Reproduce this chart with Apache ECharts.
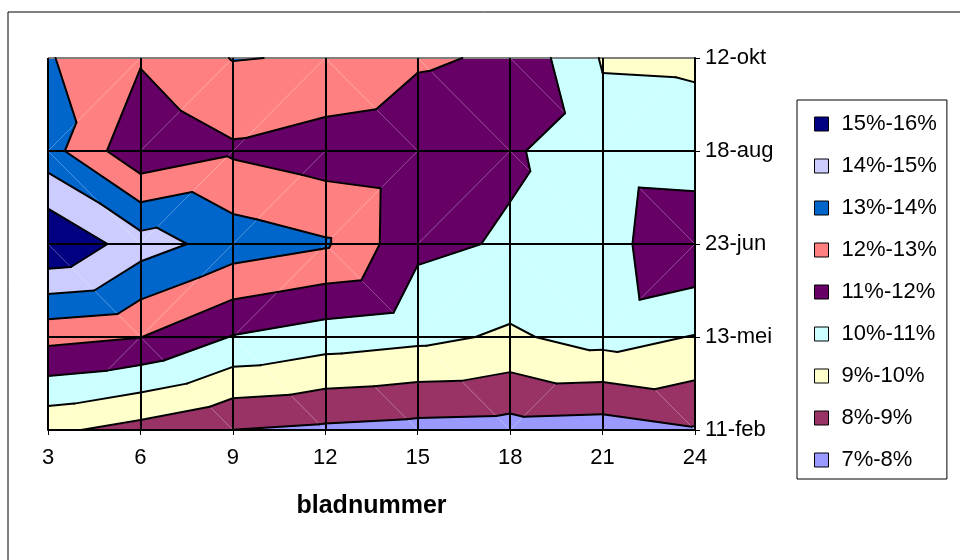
<!DOCTYPE html>
<html><head><meta charset="utf-8">
<script src="https://cdn.jsdelivr.net/npm/echarts@6/dist/echarts.min.js"></script>
<style>html,body{margin:0;padding:0;background:#fff}#c{width:960px;height:560px}</style>
</head><body><div id="c"></div>
<script>
// bladnummer (x) and dates (y)
const xValues = [3, 6, 9, 12, 15, 18, 21, 24];
const yLabels = ['11-feb', '13-mei', '23-jun', '18-aug', '12-okt'];
// percentage values per date row, one per bladnummer
const row_11feb = [9.2, 8.64, 7.99, 7.81, 7.67, 7.6, 7.51, 7.91];
const row_13mei = [12.3, 12.02, 10.95, 10.5, 10.25, 9.85, 10.4, 9.95];
const row_23jun = [15.98, 14.46, 13.55, 13.12, 11.22, 10.9, 10.57, 11.9];
const row_18aug = [13.4, 11.2, 11.85, 11.47, 11.25, 11.12, 10.42, 10.31];
const row_12okt = [13.08, 12.1, 13.04, 12.92, 12.14, 11.85, 9.92, 9.89];
// bands
const bandNames = ['7%-8%', '8%-9%', '9%-10%', '10%-11%', '11%-12%', '12%-13%', '13%-14%', '14%-15%', '15%-16%'];
const bandLows = [7, 8, 9, 10, 11, 12, 13, 14, 15];
const bandHighs = [8, 9, 10, 11, 12, 13, 14, 15, 16];
const bandColors = ['#9999FF', '#993366', '#FFFFCC', '#CCFFFF', '#660066', '#FF8080', '#0066CC', '#CCCCFF', '#000080'];

const rows = [row_11feb, row_13mei, row_23jun, row_18aug, row_12okt];

// triangulate each grid cell (diagonal through the higher pair of corners)
function buildTriangles() {
  const tris = [];
  for (let j = 0; j < rows.length - 1; j++) {
    for (let i = 0; i < xValues.length - 1; i++) {
      const BL = [xValues[i], j, rows[j][i]];
      const BR = [xValues[i + 1], j, rows[j][i + 1]];
      const TL = [xValues[i], j + 1, rows[j + 1][i]];
      const TR = [xValues[i + 1], j + 1, rows[j + 1][i + 1]];
      if (BL[2] + TR[2] >= TL[2] + BR[2]) {
        tris.push([...BL, ...BR, ...TR]);
        tris.push([...BL, ...TR, ...TL]);
      } else {
        tris.push([...TL, ...BL, ...BR]);
        tris.push([...TL, ...BR, ...TR]);
      }
    }
  }
  return tris;
}
const triangles = buildTriangles();

function clip(poly, level, keepAbove) {
  const out = [];
  for (let k = 0; k < poly.length; k++) {
    const a = poly[k], b = poly[(k + 1) % poly.length];
    const ina = keepAbove ? a[2] >= level : a[2] <= level;
    const inb = keepAbove ? b[2] >= level : b[2] <= level;
    if (ina) out.push(a);
    if (ina !== inb) {
      const t = (level - a[2]) / (b[2] - a[2]);
      out.push([a[0] + t * (b[0] - a[0]), a[1] + t * (b[1] - a[1]), level]);
    }
  }
  return out;
}
function triFromApi(api) {
  return [0, 1, 2].map(k => [api.value(3 * k), api.value(3 * k + 1), api.value(3 * k + 2)]);
}

const FONT = 'Liberation Sans, Arial, sans-serif';
const series = [];
bandNames.forEach((name, b) => {
  series.push({
    type: 'custom', name: name, data: triangles, z: 2, silent: true,
    itemStyle: { color: bandColors[b] },
    encode: { x: 0, y: 1 },
    renderItem: (params, api) => {
      const p = triFromApi(api);
      const poly = clip(clip(p, bandLows[b], true), bandHighs[b], false);
      if (poly.length < 3) return null;
      return {
        type: 'polygon',
        shape: { points: poly.map(q => api.coord([q[0], q[1]])) },
        style: { fill: bandColors[b], stroke: bandColors[b], lineWidth: 1 }
      };
    }
  });
});
// faint triangulation diagonals
series.push({
  type: 'custom', data: triangles, z: 3, silent: true, encode: { x: 0, y: 1 },
  renderItem: (params, api) => {
    if (params.dataIndex % 2 !== 0) return null;
    const p = triFromApi(api);
    const a = api.coord([p[0][0], p[0][1]]), c = api.coord([p[2][0], p[2][1]]);
    return { type: 'line', shape: { x1: a[0], y1: a[1], x2: c[0], y2: c[1] },
      style: { stroke: 'rgba(255,255,255,0.3)', lineWidth: 1 } };
  }
});
// contour lines
series.push({
  type: 'custom', data: triangles, z: 6, silent: true, encode: { x: 0, y: 1 },
  renderItem: (params, api) => {
    const p = triFromApi(api);
    const children = [];
    for (let b = 1; b < bandLows.length; b++) {
      const t = bandLows[b];
      const pts = [];
      for (let k = 0; k < 3; k++) {
        const a = p[k], c = p[(k + 1) % 3];
        if ((a[2] - t) * (c[2] - t) < 0) {
          const s = (t - a[2]) / (c[2] - a[2]);
          pts.push(api.coord([a[0] + s * (c[0] - a[0]), a[1] + s * (c[1] - a[1])]));
        }
      }
      if (pts.length === 2) {
        children.push({ type: 'line', shape: { x1: pts[0][0], y1: pts[0][1], x2: pts[1][0], y2: pts[1][1] },
          style: { stroke: '#000', lineWidth: 2, lineCap: 'round' } });
      }
    }
    return { type: 'group', children };
  }
});

const chart = echarts.init(document.getElementById('c'), null, { renderer: 'canvas' });
chart.setOption({
  animation: false,
  backgroundColor: '#fff',
  textStyle: { fontFamily: FONT },
  grid: { left: 48, right: 265, top: 58, bottom: 130, containLabel: false },
  graphic: [{
    type: 'rect', silent: true, z: -10,
    shape: { x: 8, y: 12, width: 1100, height: 1000 },
    style: { fill: 'none', stroke: '#000', lineWidth: 1 }
  }],
  xAxis: {
    type: 'value', min: 3, max: 24, interval: 3, z: 5,
    axisLine: { show: true, lineStyle: { color: '#000', width: 2 } },
    axisTick: { show: true, length: 5, lineStyle: { color: '#000', width: 1 } },
    axisLabel: { color: '#000', fontSize: 22, margin: 17, fontFamily: FONT },
    splitLine: { show: true, lineStyle: { color: '#000', width: 2 } },
    name: 'bladnummer', nameLocation: 'middle', nameGap: 64,
    nameTextStyle: { color: '#000', fontSize: 25, fontWeight: 'bold', fontFamily: FONT }
  },
  yAxis: {
    type: 'value', min: 0, max: 4, interval: 1, position: 'right', z: 5,
    axisLine: { show: true, lineStyle: { color: '#000', width: 2 } },
    axisTick: { show: true, length: 5, lineStyle: { color: '#000', width: 1 } },
    axisLabel: { color: '#000', fontSize: 22, margin: 10, fontFamily: FONT, formatter: v => yLabels[v] },
    splitLine: { show: true, lineStyle: { color: ['#000', '#000', '#000', '#000', '#808080'], width: 2 } }
  },
  legend: {
    orient: 'vertical', left: 797, top: 100,
    data: bandNames.slice().reverse(),
    icon: 'rect', itemWidth: 14, itemHeight: 14, itemGap: 18,
    padding: [12, 10, 7, 17],
    borderColor: '#000', borderWidth: 1,
    itemStyle: { borderColor: '#000', borderWidth: 1 },
    textStyle: { color: '#000', fontSize: 22, fontFamily: FONT, lineHeight: 24, padding: [0, 0, 0, 8] },
    selectedMode: false
  },
  series: series
});
</script>
</body></html>
